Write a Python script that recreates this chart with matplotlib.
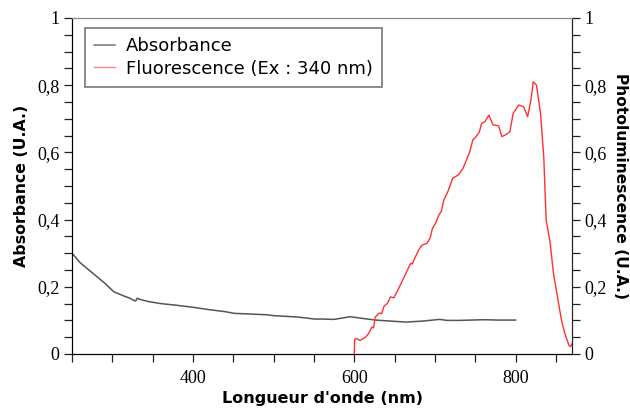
import matplotlib
matplotlib.use("Agg")
import matplotlib.pyplot as plt
from matplotlib.ticker import MultipleLocator, FuncFormatter

# Absorbance (wavelength nm, value)
abs_wl = [250, 260, 270, 280, 290, 302, 315, 322, 326, 329, 331, 335, 345, 360, 380, 400,
          420, 440, 451, 470, 490, 501, 530, 551, 560, 575, 585, 595, 610, 626, 645, 664, 685, 706,
          715, 730, 760, 780, 800]
abs_val = [0.300, 0.272, 0.252, 0.232, 0.212, 0.185, 0.172, 0.166, 0.160, 0.158, 0.166, 0.162,
           0.156, 0.150, 0.145, 0.139, 0.132, 0.126, 0.121, 0.119, 0.117, 0.114, 0.110, 0.104, 0.104,
           0.103, 0.107, 0.111, 0.106, 0.101, 0.098, 0.095, 0.098, 0.103, 0.100, 0.100, 0.102, 0.101, 0.101]

# Fluorescence (excitation 340 nm)
fl_wl = [600, 600.5, 603, 607, 614, 618, 622, 624, 626, 631, 634, 637, 641, 645, 649, 653, 657,
         663, 670, 672, 675, 680, 684, 690, 694, 697, 701, 705, 708, 711, 716, 722, 729, 735, 739,
         743, 747, 751, 755, 758, 762, 767, 772, 779, 783, 789, 793, 797, 804, 810,
         815, 819, 822, 826, 831, 835, 837, 838, 843, 847, 852, 857, 861, 866, 868, 870]
fl_val = [0.000, 0.044, 0.046, 0.040, 0.050, 0.062, 0.080, 0.078, 0.110, 0.122, 0.120, 0.143, 0.150,
          0.170, 0.167, 0.185, 0.205, 0.235, 0.270, 0.268, 0.285, 0.310, 0.324, 0.329, 0.345, 0.374,
          0.390, 0.414, 0.425, 0.458, 0.483, 0.523, 0.533, 0.553, 0.577, 0.600, 0.637, 0.647,
          0.660, 0.687, 0.691, 0.711, 0.682, 0.679, 0.647, 0.654, 0.662, 0.716, 0.741,
          0.736, 0.706, 0.756, 0.810, 0.800, 0.716, 0.587, 0.458, 0.399, 0.329, 0.240,
          0.170, 0.100, 0.062, 0.027, 0.022, 0.030]

x_ticks = [400, 600, 800]
y_ticks = [0, 0.2, 0.4, 0.6, 0.8, 1.0]

serif = ["Liberation Serif", "DejaVu Serif"]
sans = ["DejaVu Sans"]

fig = plt.figure(figsize=(6.30, 4.08), dpi=100)
ax = fig.add_axes([72/630, 54/408, 500/630, 336/408])
ax2 = ax.twinx()

ax.plot(abs_wl, abs_val, color="#555555", lw=1.1, label="Absorbance")
ax2.plot(fl_wl, fl_val, color="#ff3030", lw=1.0, label="Fluorescence (Ex : 340 nm)")

ax.set_xlim(250, 870)
ax.set_ylim(0, 1)
ax2.set_ylim(0, 1)

def fmt(v, pos):
    if abs(v) < 1e-9:
        return "0"
    if abs(v - 1) < 1e-9:
        return "1"
    return ("%.1f" % v).replace(".", ",")

for a in (ax, ax2):
    a.yaxis.set_major_locator(plt.FixedLocator(y_ticks))
    a.yaxis.set_minor_locator(MultipleLocator(0.05))
    a.yaxis.set_major_formatter(FuncFormatter(fmt))
ax.xaxis.set_major_locator(plt.FixedLocator(x_ticks))
ax.xaxis.set_minor_locator(MultipleLocator(50))

for a in (ax, ax2):
    a.tick_params(which="both", direction="out", length=5.5, width=0.9, color="#222222",
                  labelsize=13, pad=3.5)
    for lab in a.get_xticklabels() + a.get_yticklabels():
        lab.set_family(serif)
ax.tick_params(axis="x", pad=6)
ax.spines["top"].set_color("#888888")
ax2.spines["top"].set_color("#888888")
ax2.spines["right"].set_color("#222222")

ax.set_xlabel("Longueur d'onde (nm)", fontsize=11.5, fontweight="bold", family=sans, labelpad=3)
ax.set_ylabel("Absorbance (U.A.)", fontsize=11.3, fontweight="bold", family=sans, labelpad=6)
ax2.set_ylabel("Photoluminescence (U.A.)", fontsize=11.2, fontweight="bold", family=sans,
               rotation=270, va="center", ha="center")
ax2.yaxis.set_label_coords((621 - 72) / 500, 0.5)

h1, l1 = ax.get_legend_handles_labels()
h2, l2 = ax2.get_legend_handles_labels()
leg = ax2.legend(h1 + h2, l1 + l2, loc="upper left", bbox_to_anchor=(13/500, 1 - 10/336),
                 borderaxespad=0, fancybox=False, framealpha=1, edgecolor="#777777",
                 prop={"family": sans, "size": 13}, handlelength=1.15,
                 handletextpad=0.6, labelspacing=0.25, borderpad=0.5)
leg.get_frame().set_linewidth(1.2)
leg.legend_handles[1].set_alpha(0.6)
leg.legend_handles[0].set_alpha(0.8)

fig.savefig("out.png", dpi=100)
